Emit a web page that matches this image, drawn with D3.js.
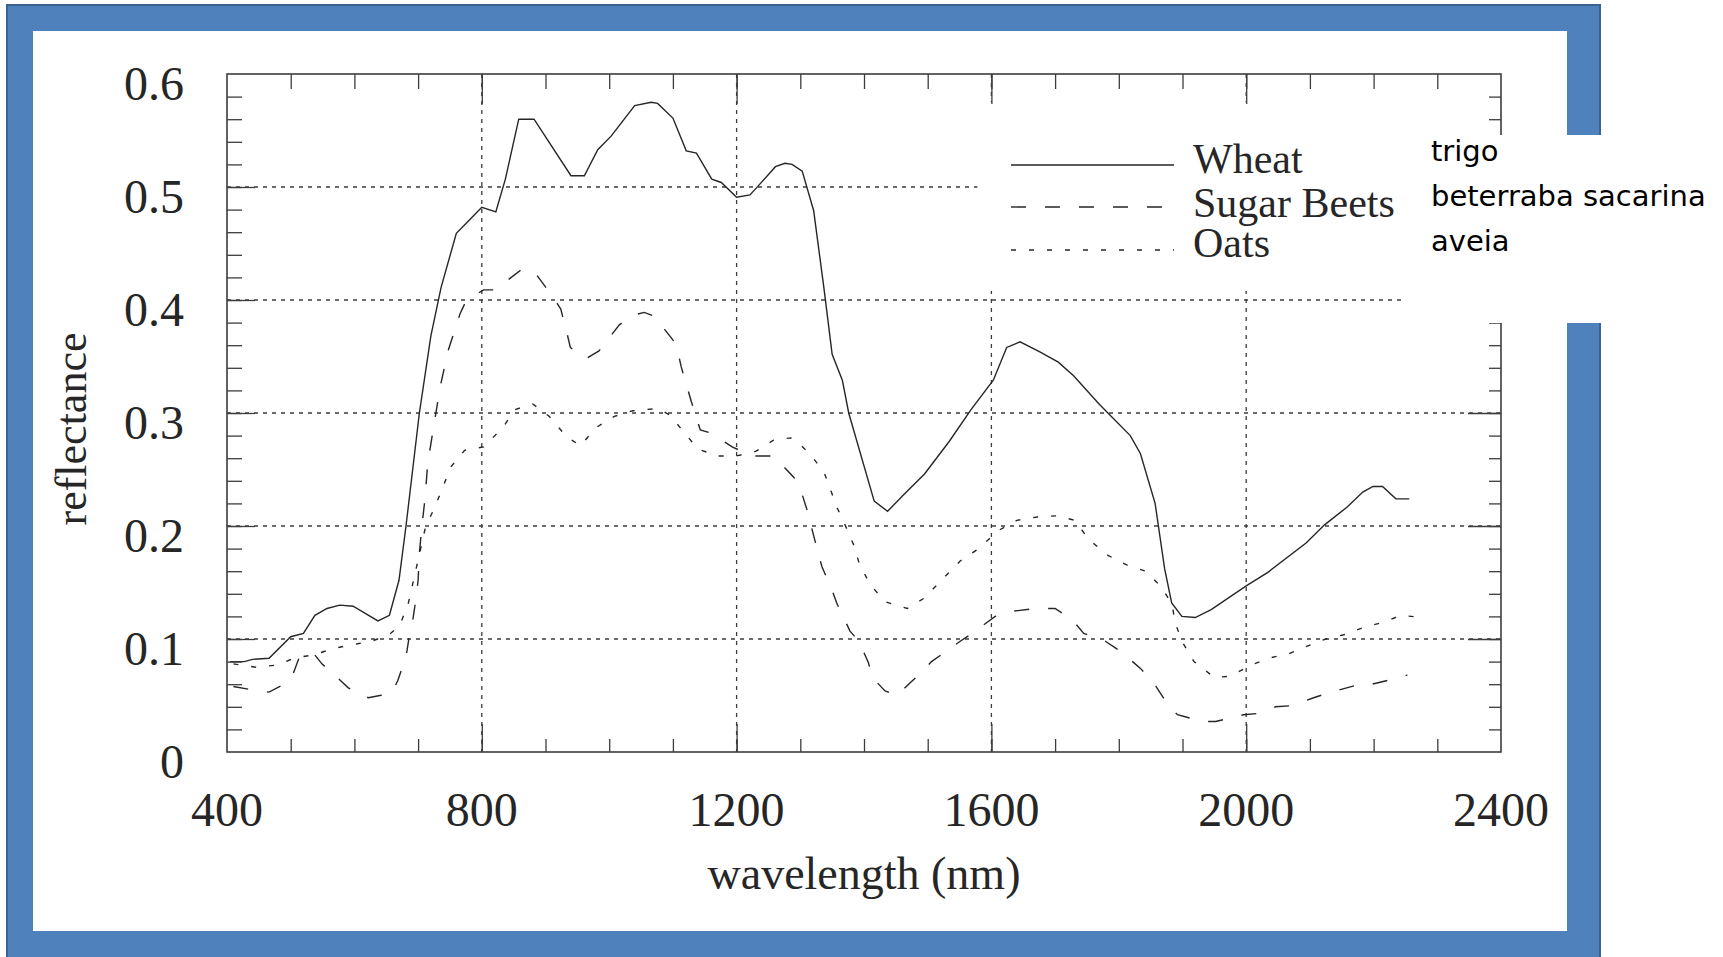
<!DOCTYPE html>
<html lang="en">
<head>
<meta charset="UTF-8">
<title>reflectance</title>
<script src="https://d3js.org/d3.v7.min.js"></script>
<style>
    body { margin: 0; background: #fff; }
    text { font-family: 'Liberation Serif', 'Times New Roman', serif; fill: #262626; }
    .pt { font-family: 'DejaVu Sans', Verdana, sans-serif; fill: #000; }
    .tick line { stroke: #3c3c3c; stroke-width: 1.3; }
</style>
</head>
<body>
<script>

    const width = 1723;
    const height = 957;

    // values
    const wheatWave = [405,427,440,466,500,520,538,557,577,598,619,637,655,670,681,702,720,736,760,779,800,822,837,858,882,940,961,982,1003,1040,1066,1076,1100,1121,1137,1161,1176,1200,1221,1234,1261,1276,1287,1303,1321,1337,1350,1366,1376,1416,1437,1463,1495,1534,1568,1603,1624,1645,1676,1705,1729,1769,1818,1834,1857,1872,1883,1899,1920,1945,2000,2034,2094,2123,2159,2183,2199,2214,2235,2256];
    const wheatRefl = [0.080,0.080,0.082,0.083,0.102,0.105,0.121,0.127,0.130,0.129,0.122,0.116,0.121,0.152,0.200,0.300,0.368,0.411,0.459,0.470,0.482,0.478,0.507,0.560,0.560,0.510,0.510,0.533,0.545,0.572,0.575,0.574,0.561,0.532,0.530,0.507,0.504,0.491,0.493,0.501,0.518,0.521,0.520,0.514,0.479,0.411,0.352,0.329,0.300,0.222,0.213,0.228,0.246,0.275,0.303,0.329,0.358,0.363,0.354,0.345,0.333,0.308,0.280,0.264,0.220,0.162,0.132,0.120,0.119,0.126,0.147,0.159,0.185,0.201,0.217,0.230,0.235,0.235,0.224,0.224];

    const beetWave = [410,440,466,490,503,513,535,549,567,590,604,622,640,658,668,681,686,692,697,700,702,706,711,715,725,735,747,766,776,803,821,860,881,910,924,934,939,963,984,1016,1034,1055,1074,1087,1105,1113,1129,1143,1161,1193,1224,1258,1290,1300,1313,1318,1329,1334,1350,1357,1378,1392,1407,1413,1433,1452,1470,1491,1506,1551,1567,1606,1625,1669,1700,1727,1745,1779,1803,1834,1855,1879,1892,1931,1952,1996,2017,2046,2072,2106,2127,2172,2190,2227,2253];
    const beetRefl = [0.058,0.055,0.053,0.060,0.068,0.083,0.088,0.078,0.069,0.057,0.052,0.048,0.050,0.052,0.063,0.084,0.102,0.118,0.137,0.152,0.176,0.200,0.225,0.255,0.290,0.324,0.355,0.388,0.400,0.409,0.409,0.426,0.426,0.404,0.392,0.370,0.358,0.348,0.355,0.378,0.386,0.389,0.385,0.374,0.361,0.341,0.310,0.285,0.282,0.270,0.262,0.262,0.243,0.233,0.210,0.198,0.174,0.164,0.143,0.132,0.107,0.098,0.079,0.066,0.054,0.050,0.060,0.071,0.080,0.098,0.104,0.120,0.124,0.127,0.127,0.117,0.105,0.098,0.089,0.074,0.061,0.040,0.033,0.027,0.027,0.033,0.034,0.040,0.041,0.048,0.052,0.059,0.059,0.064,0.068];

    const oatWave = [410,446,480,505,536,570,607,627,655,671,684,698,712,725,738,751,773,803,833,852,880,906,933,955,979,1008,1037,1076,1096,1117,1140,1170,1200,1230,1258,1285,1300,1316,1337,1358,1371,1384,1393,1410,1433,1468,1494,1520,1551,1580,1611,1640,1672,1703,1731,1753,1783,1814,1842,1867,1884,1888,1900,1918,1950,1975,2008,2035,2067,2097,2125,2155,2183,2216,2243,2275];
    const oatRefl = [0.078,0.075,0.077,0.083,0.086,0.092,0.096,0.098,0.104,0.112,0.130,0.165,0.200,0.215,0.233,0.252,0.267,0.270,0.287,0.303,0.308,0.297,0.279,0.271,0.287,0.297,0.302,0.304,0.298,0.283,0.268,0.262,0.262,0.266,0.276,0.278,0.272,0.263,0.248,0.216,0.200,0.183,0.166,0.148,0.133,0.127,0.136,0.151,0.169,0.180,0.196,0.205,0.208,0.209,0.205,0.188,0.174,0.165,0.160,0.146,0.130,0.115,0.097,0.080,0.066,0.067,0.077,0.083,0.087,0.094,0.100,0.104,0.110,0.115,0.121,0.119];

    const xTicks = [400,800,1200,1600,2000,2400];
    const yTicks = [0,0.1,0.2,0.3,0.4,0.5,0.6];
    const seriesNames = ['Wheat','Sugar Beets','Oats'];
    const ptNames = ['trigo','beterraba sacarina','aveia'];

    const series = [
        {wave: wheatWave, refl: wheatRefl, dash: null},
        {wave: beetWave, refl: beetRefl, dash: '15,19'},
        {wave: oatWave, refl: oatRefl, dash: '5,13'}
    ];

    const pLeft = 227, pRight = 1501, pTop = 74, pBottom = 752;

    const x = d3.scaleLinear().domain([400,2400]).range([pLeft,pRight]);
    const y = d3.scaleLinear().domain([0,0.6]).range([pBottom,pTop]);

    const svg = d3.select("body").append("svg").attr("width",width).attr("height",height);

    // slide frame
    svg.append("rect").attr("x",7).attr("y",5).attr("width",1593).attr("height",960)
        .style("fill","#4f81bd").style("stroke","#3b6291").style("stroke-width",2);
    svg.append("rect").attr("x",33).attr("y",31).attr("width",1534).attr("height",900).style("fill","#fff");

    const chart = svg.append("g");

    // dotted grid
    const gridX = xTicks.slice(1,-1), gridY = yTicks.slice(1,-1);
    chart.selectAll("line.gx").data(gridX).enter().append("line").attr("class","gx")
        .attr("x1",d => x(d)).attr("x2",d => x(d)).attr("y1",pTop).attr("y2",pBottom)
        .style("stroke","#3c3c3c").style("stroke-width",1.3).style("stroke-dasharray","4,5");
    chart.selectAll("line.gy").data(gridY).enter().append("line").attr("class","gy")
        .attr("x1",pLeft).attr("x2",pRight).attr("y1",d => y(d)).attr("y2",d => y(d))
        .style("stroke","#3c3c3c").style("stroke-width",1.3).style("stroke-dasharray","4,5");

    // legend background hides the grid behind it
    chart.append("rect").attr("x",x(1578)).attr("y",y(0.575)).attr("width",pRight - x(1578) - 2)
        .attr("height",y(0.408) - y(0.575)).style("fill","#fff");

    // curves
    const line = d3.line().x(d => x(d[0])).y(d => y(d[1]));
    chart.selectAll("path.curve").data(series).enter().append("path").attr("class","curve")
        .attr("d", s => line(s.wave.map((w,i) => [w, s.refl[i]])))
        .style("fill","none").style("stroke","#262626").style("stroke-width",1.4)
        .style("stroke-dasharray", s => s.dash);

    // ticks on all four sides, minor and major
    const minorX = d3.range(500,2400,100), minorY = d3.range(0.02,0.6,0.02);
    const noLabel = () => '';
    function ticks(axis, g) {
        g.call(axis);
        g.select(".domain").remove();
    }
    ticks(d3.axisBottom(x).tickValues(minorX).tickSize(-13).tickFormat(noLabel),
        chart.append("g").attr("transform",`translate(0,${pBottom})`));
    ticks(d3.axisBottom(x).tickValues(gridX).tickSize(-28).tickFormat(noLabel),
        chart.append("g").attr("transform",`translate(0,${pBottom})`));
    ticks(d3.axisTop(x).tickValues(minorX).tickSize(-15).tickFormat(noLabel),
        chart.append("g").attr("transform",`translate(0,${pTop})`));
    ticks(d3.axisTop(x).tickValues(gridX).tickSize(-30).tickFormat(noLabel),
        chart.append("g").attr("transform",`translate(0,${pTop})`));
    ticks(d3.axisLeft(y).tickValues(minorY).tickSize(-15).tickFormat(noLabel),
        chart.append("g").attr("transform",`translate(${pLeft},0)`));
    ticks(d3.axisLeft(y).tickValues(gridY).tickSize(-28).tickFormat(noLabel),
        chart.append("g").attr("transform",`translate(${pLeft},0)`));
    ticks(d3.axisRight(y).tickValues(minorY).tickSize(-12).tickFormat(noLabel),
        chart.append("g").attr("transform",`translate(${pRight},0)`));
    ticks(d3.axisRight(y).tickValues(gridY).tickSize(-33).tickFormat(noLabel),
        chart.append("g").attr("transform",`translate(${pRight},0)`));

    chart.append("rect").attr("x",pLeft).attr("y",pTop).attr("width",pRight-pLeft).attr("height",pBottom-pTop)
        .style("fill","none").style("stroke","#3c3c3c").style("stroke-width",1.6);

    // tick labels
    chart.selectAll("text.xl").data(xTicks).enter().append("text").attr("class","xl")
        .attr("x",d => x(d)).attr("y",pBottom + 74)
        .style("text-anchor","middle").style("font-size","48px").text(d => d);
    chart.selectAll("text.yl").data(yTicks).enter().append("text").attr("class","yl")
        .attr("x",184).attr("y",d => y(d) + 26)
        .style("text-anchor","end").style("font-size","48px").text(d => d === 0 ? '0' : d.toFixed(1));

    chart.append("text").attr("x",(pLeft+pRight)/2).attr("y",889)
        .style("text-anchor","middle").style("font-size","46px").text("wavelength (nm)");
    chart.append("text").attr("transform","translate(86,429) rotate(-90)")
        .style("text-anchor","middle").style("font-size","44px").text("reflectance");

    // legend
    const legY = [165,207,250], legBase = [173,217,257];
    const legend = chart.selectAll("g.leg").data(series).enter().append("g").attr("class","leg");
    legend.append("line").attr("x1",1011).attr("x2",1174)
        .attr("y1",(d,i) => legY[i]).attr("y2",(d,i) => legY[i])
        .style("stroke","#262626").style("stroke-width",1.4).style("stroke-dasharray",d => d.dash);
    legend.append("text").attr("x",1193).attr("y",(d,i) => legBase[i])
        .style("font-size","42px").text((d,i) => seriesNames[i]);

    // translation note pasted over the slide border
    svg.append("rect").attr("x",1404).attr("y",135).attr("width",width-1404).attr("height",188).style("fill","#fff");
    svg.selectAll("text.pt").data(ptNames).enter().append("text").attr("class","pt")
        .attr("x",1431).attr("y",(d,i) => 161 + i*45)
        .style("font-size","29px").text(d => d);

</script>
</body>
</html>
